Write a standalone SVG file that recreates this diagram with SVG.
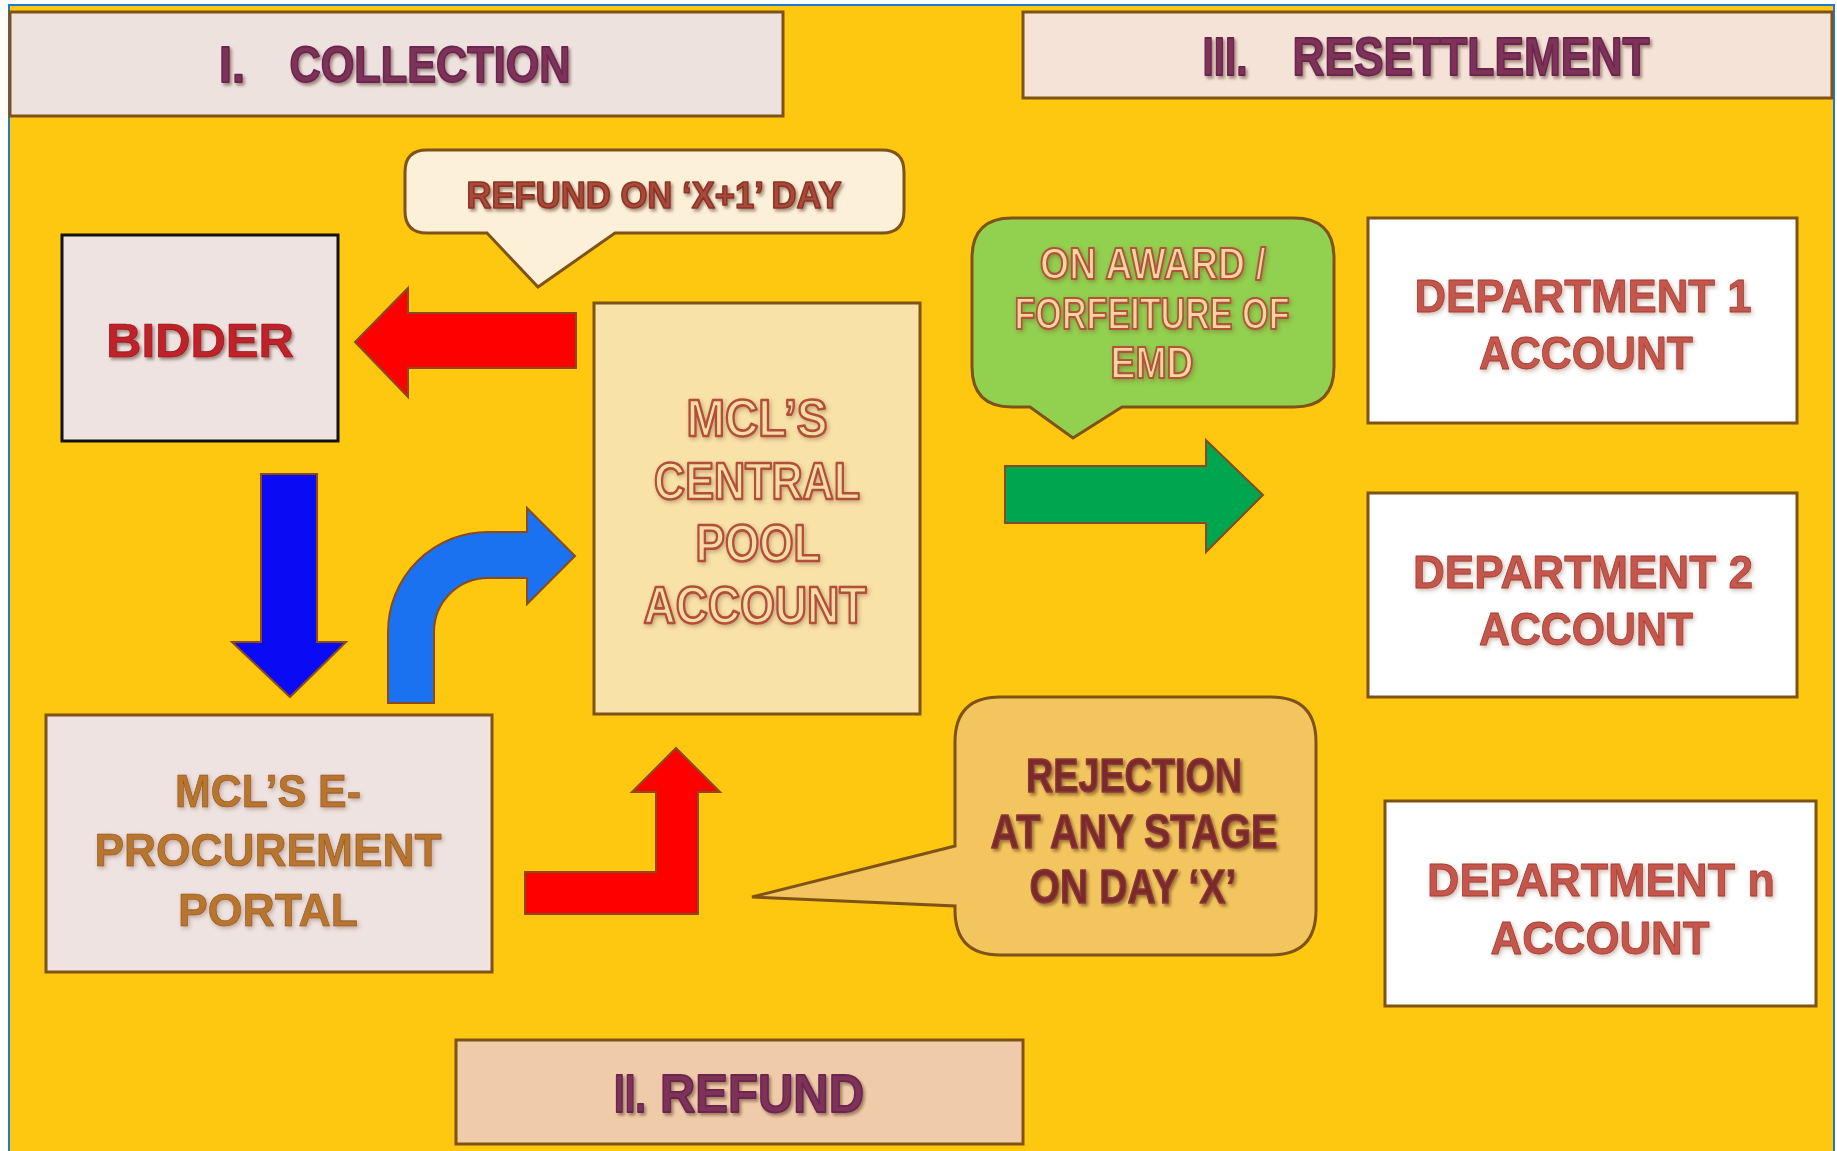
<svg xmlns="http://www.w3.org/2000/svg" width="1837" height="1151" viewBox="0 0 1837 1151">
<defs>
<filter id="sh" x="-10%" y="-20%" width="130%" height="150%">
<feDropShadow dx="2" dy="2.5" stdDeviation="1.5" flood-color="#3a1a10" flood-opacity="0.45"/>
</filter>
<filter id="glow" x="-10%" y="-20%" width="130%" height="150%">
<feDropShadow dx="1.5" dy="2" stdDeviation="2" flood-color="#6a3020" flood-opacity="0.35"/>
</filter>
</defs>
<style>
.box{stroke:#7F5217;stroke-width:3}
.arr{stroke:#8A4A1E;stroke-width:2;stroke-linejoin:miter}
text{font-family:"Liberation Sans",Arial,sans-serif;font-weight:bold;text-anchor:middle;stroke-linejoin:round}
.title{fill:#7E3358;stroke:#6A2850;stroke-width:1.8;filter:url(#sh)}
.call{fill:#A9483A;stroke:#8A3426;stroke-width:1.6;filter:url(#sh)}
.rej{fill:#7A2C2C;stroke:#8E3A36;stroke-width:1.4;filter:url(#sh)}
.pool{fill:#F5DCA4;stroke:#B2503A;stroke-width:2.6;filter:url(#glow)}
.award{fill:#F4D4A0;stroke:#B0543A;stroke-width:2.2;filter:url(#glow)}
.dept{fill:#C4574B;stroke:#A23E36;stroke-width:0.8;filter:url(#glow)}
.portal{fill:#B8742F;stroke:#8E5522;stroke-width:0.6;filter:url(#glow)}
</style>
<rect x="0" y="0" width="1837" height="1151" fill="#FFFFFF"/>
<rect x="9" y="5" width="1825" height="1150" fill="#FDC80F" stroke="#1E78D6" stroke-width="2"/>

<g id="collection">
<rect class="box" x="10" y="12" width="773" height="104" fill="#EEE2DF"/>
<text class="title" x="232" y="82" font-size="50" textLength="26" lengthAdjust="spacingAndGlyphs">I.</text>
<text class="title" x="430" y="82" font-size="50" textLength="281" lengthAdjust="spacingAndGlyphs">COLLECTION</text>
</g>

<g id="resettlement">
<rect class="box" x="1023" y="12" width="809" height="86" fill="#F5E3D8"/>
<text class="title" x="1225" y="75" font-size="53" textLength="45" lengthAdjust="spacingAndGlyphs">III.</text>
<text class="title" x="1471" y="75" font-size="53" textLength="357" lengthAdjust="spacingAndGlyphs">RESETTLEMENT</text>
</g>

<g id="refund-callout">
<path class="box" fill="#FCF0D8" d="M 427,150 H 882 Q 904,150 904,172 V 211 Q 904,233 882,233 H 615 L 538,287 L 487,233 H 427 Q 405,233 405,211 V 172 Q 405,150 427,150 Z"/>
<text class="call" x="654" y="208" font-size="36" textLength="375" lengthAdjust="spacingAndGlyphs">REFUND ON ‘X+1’ DAY</text>
</g>

<g id="bidder">
<rect x="62" y="235" width="276" height="206" fill="#EEE3E0" stroke="#111111" stroke-width="3"/>
<text x="200" y="357" font-size="48" fill="#C0202A" stroke="#8A1A20" stroke-width="0.6" filter="url(#sh)" textLength="188" lengthAdjust="spacingAndGlyphs">BIDDER</text>
</g>

<g id="pool">
<rect class="box" x="594" y="303" width="326" height="411" fill="#F8E2A8"/>
<text class="pool" x="757" y="436" font-size="52" textLength="141" lengthAdjust="spacingAndGlyphs">MCL’S</text>
<text class="pool" x="757" y="499" font-size="52" textLength="206" lengthAdjust="spacingAndGlyphs">CENTRAL</text>
<text class="pool" x="758" y="561" font-size="52" textLength="125" lengthAdjust="spacingAndGlyphs">POOL</text>
<text class="pool" x="755" y="623" font-size="52" textLength="223" lengthAdjust="spacingAndGlyphs">ACCOUNT</text>
</g>

<g id="award-callout">
<path class="box" fill="#92D050" d="M 1012,218 H 1294 Q 1334,218 1334,258 V 367 Q 1334,407 1294,407 H 1122 L 1073,438 L 1030,407 H 1012 Q 972,407 972,367 V 258 Q 972,218 1012,218 Z"/>
<text class="award" x="1153" y="279" font-size="44" textLength="226" lengthAdjust="spacingAndGlyphs">ON AWARD /</text>
<text class="award" x="1152" y="329" font-size="44" textLength="275" lengthAdjust="spacingAndGlyphs">FORFEITURE OF</text>
<text class="award" x="1152" y="378" font-size="44" textLength="83" lengthAdjust="spacingAndGlyphs">EMD</text>
</g>

<g id="dept1">
<rect class="box" x="1368" y="218" width="429" height="205" fill="#FFFFFF"/>
<text class="dept" x="1583" y="312" font-size="46" textLength="337" lengthAdjust="spacingAndGlyphs">DEPARTMENT 1</text>
<text class="dept" x="1586" y="369" font-size="46" textLength="214" lengthAdjust="spacingAndGlyphs">ACCOUNT</text>
</g>

<g id="dept2">
<rect class="box" x="1368" y="493" width="429" height="204" fill="#FFFFFF"/>
<text class="dept" x="1583" y="588" font-size="46" textLength="340" lengthAdjust="spacingAndGlyphs">DEPARTMENT 2</text>
<text class="dept" x="1586" y="645" font-size="46" textLength="214" lengthAdjust="spacingAndGlyphs">ACCOUNT</text>
</g>

<g id="deptn">
<rect class="box" x="1385" y="801" width="431" height="205" fill="#FFFFFF"/>
<text class="dept" x="1601" y="896" font-size="46" textLength="348" lengthAdjust="spacingAndGlyphs">DEPARTMENT n</text>
<text class="dept" x="1600" y="954" font-size="46" textLength="219" lengthAdjust="spacingAndGlyphs">ACCOUNT</text>
</g>

<g id="portal">
<rect class="box" x="46" y="715" width="446" height="257" fill="#EEE3E1"/>
<text class="portal" x="268" y="807" font-size="46" textLength="186" lengthAdjust="spacingAndGlyphs">MCL’S E-</text>
<text class="portal" x="268" y="866" font-size="46" textLength="347" lengthAdjust="spacingAndGlyphs">PROCUREMENT</text>
<text class="portal" x="268" y="926" font-size="46" textLength="180" lengthAdjust="spacingAndGlyphs">PORTAL</text>
</g>

<g id="rejection-callout">
<path class="box" fill="#F2C55E" d="M 1000,697 H 1271 Q 1316,697 1316,742 V 910 Q 1316,955 1271,955 H 1000 Q 955,955 955,910 L 955,906 L 752,897 L 955,846 V 742 Q 955,697 1000,697 Z"/>
<text class="rej" x="1134" y="792" font-size="48" textLength="216" lengthAdjust="spacingAndGlyphs">REJECTION</text>
<text class="rej" x="1134" y="848" font-size="48" textLength="287" lengthAdjust="spacingAndGlyphs">AT ANY STAGE</text>
<text class="rej" x="1133" y="903" font-size="48" textLength="207" lengthAdjust="spacingAndGlyphs">ON DAY ‘X’</text>
</g>

<g id="refund">
<rect class="box" x="456" y="1040" width="567" height="104" fill="#EFCBA9"/>
<text class="title" x="630" y="1112" font-size="53" textLength="32" lengthAdjust="spacingAndGlyphs">II.</text>
<text class="title" x="762" y="1112" font-size="53" textLength="204" lengthAdjust="spacingAndGlyphs">REFUND</text>
</g>

<g id="connectors">
<path class="arr" fill="#FF0000" d="M 355,342 L 408,288 L 408,313 L 576,313 L 576,368 L 408,368 L 408,397 Z"/>
<path class="arr" fill="#0A0AF5" d="M 261,474 H 317 V 642 H 346 L 290,697 L 232,642 H 261 Z"/>
<path class="arr" fill="#1A72F0" d="M 388,703 V 632 A 100,100 0 0 1 488,532 H 527 V 508 L 575,556 L 527,604 V 578 H 488 A 54,54 0 0 0 434,632 V 703 Z"/>
<path class="arr" fill="#FF0000" d="M 525,872 H 656 V 792 H 632 L 676,748 L 720,792 H 698 V 914 H 525 Z"/>
<path class="arr" fill="#00A550" d="M 1005,466 H 1206 V 440 L 1263,495 L 1206,552 V 523 H 1005 Z"/>
</g>
</svg>
